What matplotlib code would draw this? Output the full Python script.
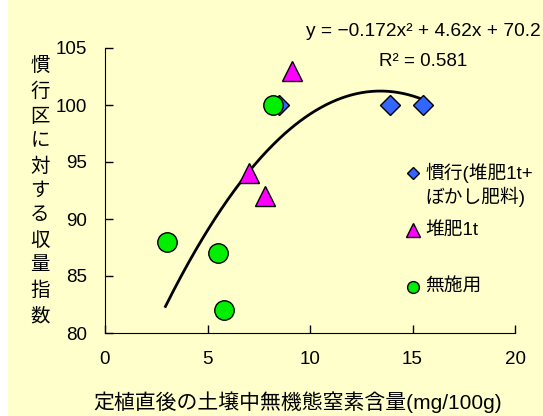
import numpy as np
import matplotlib.pyplot as plt
from matplotlib.lines import Line2D
from matplotlib.patches import Rectangle

plt.rcParams['font.family'] = ['Liberation Sans', 'Noto Sans CJK JP', 'DejaVu Sans']

# ===== データ =====
# 慣行(堆肥1t+ぼかし肥料)
kanko_x = [8.5, 13.9, 15.5]
kanko_y = [100, 100, 100]
# 堆肥1t
taihi_x = [9.1, 7.0, 7.8]
taihi_y = [103, 94, 92]
# 無施用
mu_x = [8.2, 3.0, 5.5, 5.8]
mu_y = [100, 88, 87, 82]

# 近似曲線 y = -0.172x^2 + 4.62x + 70.2
coef = [-0.172, 4.62, 70.2]
fit_range = [2.95, 15.5]

bg = '#FFFFCC'
fig = plt.figure(figsize=(5.43, 4.16), dpi=100, facecolor='white')
fig.patches.append(Rectangle((8 / 543, 0), 1, 1, transform=fig.transFigure,
                             facecolor=bg, edgecolor='none', zorder=-10))
ax = fig.add_axes([105 / 543, 83 / 416, 410 / 543, 285 / 416])
ax.set_facecolor('none')

xf = np.linspace(fit_range[0], fit_range[1], 200)
ax.plot(xf, np.polyval(coef, xf), color='black', lw=2, zorder=3)

ax.plot(kanko_x, kanko_y, 'D', ms=10.5, mfc='#3366FF', mec='black', mew=1, zorder=4)
ax.plot(taihi_x, taihi_y, '^', ms=15, mfc='#FF00FF', mec='black', mew=1, zorder=4)
ax.plot(mu_x, mu_y, 'o', ms=14, mfc='#00EE00', mec='black', mew=1, zorder=5)

ax.set_xlim(0, 20)
ax.set_ylim(80, 105)
ax.set_xticks([0, 5, 10, 15, 20])
ax.set_yticks([80, 85, 90, 95, 100, 105])
ax.spines['top'].set_visible(False)
ax.spines['right'].set_visible(False)
ax.tick_params(direction='in', length=6, width=1, labelsize=13.5, pad=13)

# 近似式
fig.text(423 / 543, 1 - 32 / 416, 'y = −0.172x² + 4.62x + 70.2', ha='center',
         va='center', fontsize=13.8)
fig.text(423 / 543, 1 - 62 / 416, 'R² = 0.581', ha='center', va='center', fontsize=13.5)

# 凡例(手作り)
leg_markers = [
    dict(marker='D', ms=6.5, mfc='#3366FF'),
    dict(marker='^', ms=9.5, mfc='#FF00FF'),
    dict(marker='o', ms=8.5, mfc='#00EE00'),
]
leg_y = [173, 230, 287]
labels = ['慣行(堆肥1t+', '堆肥1t', '無施用']
for m, yy, lab in zip(leg_markers, leg_y, labels):
    fig.add_artist(Line2D([413 / 543], [1 - yy / 416], ls='none', mec='black', mew=1,
                          transform=fig.transFigure, **m))
    fig.text(425 / 543, 1 - yy / 416, lab, ha='left', va='center', fontsize=13.5)
fig.text(425 / 543, 1 - 197 / 416, 'ぼかし肥料)', ha='left', va='center', fontsize=13.5)

fig.text(298 / 543, 1 - 402 / 416, '定植直後の土壌中無機態窒素含量(mg/100g)',
         ha='center', va='center', fontsize=15)
fig.text(40 / 543, 1 - 191 / 416, '\n'.join('慣行区に対する収量指数'), ha='center',
         va='center', fontsize=14, linespacing=1.55)

fig.savefig('out.png', dpi=100, facecolor=fig.get_facecolor())
